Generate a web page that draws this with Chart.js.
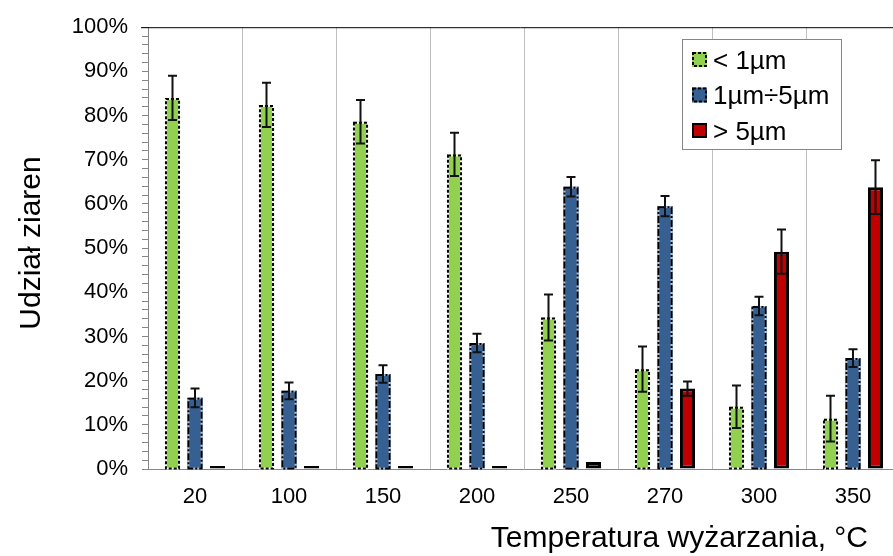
<!DOCTYPE html>
<html>
<head>
<meta charset="utf-8">
<script src="https://cdn.jsdelivr.net/npm/chart.js"></script>
<style>
html, body { margin: 0; padding: 0; background: #fff; overflow: hidden; }
#wrap { width: 900px; height: 556px; }
</style>
</head>
<body>
<div id="wrap"><canvas id="chart"></canvas></div>
<script>
const temperatures = ['20', '100', '150', '200', '250', '270', '300', '350'];

const small = [84.0, 82.4, 78.6, 71.2, 34.3, 22.6, 14.1, 11.4];
const smallErr = [5.0, 5.0, 4.9, 4.9, 5.2, 5.1, 4.8, 5.2];

const medium = [16.1, 17.7, 21.5, 28.5, 63.9, 59.5, 36.9, 25.1];
const mediumErr = [2.1, 1.9, 2.0, 2.1, 2.2, 2.3, 2.1, 2.0];

const large = [0.2, 0.2, 0.2, 0.3, 1.6, 18.2, 49.2, 63.8];
const largeErr = [0, 0, 0, 0, 0, 1.6, 5.0, 6.1];

const yTicks = [0, 10, 20, 30, 40, 50, 60, 70, 80, 90, 100];

const FONT = "'Liberation Sans', Arial, sans-serif";

// dashed outlines + error bars, drawn over the library's bars
const barExtras = {
	id: 'barExtras',
	afterDatasetsDraw(chart) {
		const ctx = chart.ctx;
		const yScale = chart.scales.y;
		chart.data.datasets.forEach((ds, i) => {
			const meta = chart.getDatasetMeta(i);
			meta.data.forEach((bar, j) => {
				const half = bar.width / 2;
				const top = Math.min(bar.y, bar.base);
				const bottom = Math.max(bar.y, bar.base);
				if (ds.dashPattern) {
					ctx.save();
					ctx.lineWidth = 2;
					ctx.strokeStyle = ds.dashGap;
					ctx.strokeRect(bar.x - half + 1, top + 1, bar.width - 2, bottom - top - 1);
					ctx.setLineDash(ds.dashPattern);
					ctx.strokeStyle = '#000';
					ctx.strokeRect(bar.x - half + 1, top + 1, bar.width - 2, bottom - top - 1);
					ctx.restore();
				}
				const err = ds.errors[j];
				if (err) {
					const hi = yScale.getPixelForValue(ds.data[j] + err);
					const lo = yScale.getPixelForValue(ds.data[j] - err);
					ctx.save();
					ctx.strokeStyle = '#111';
					ctx.lineWidth = 2;
					ctx.beginPath();
					ctx.moveTo(bar.x, hi);
					ctx.lineTo(bar.x, lo);
					ctx.moveTo(bar.x - 4.5, hi);
					ctx.lineTo(bar.x + 4.5, hi);
					ctx.moveTo(bar.x - 4.5, lo);
					ctx.lineTo(bar.x + 4.5, lo);
					ctx.stroke();
					ctx.restore();
				}
			});
		});
	}
};

// top frame line, axis titles and the boxed legend
const decorations = {
	id: 'decorations',
	afterDraw(chart) {
		const ctx = chart.ctx;
		const area = chart.chartArea;
		ctx.save();

		ctx.strokeStyle = '#000';
		ctx.lineWidth = 1;
		ctx.beginPath();
		ctx.moveTo(area.left - 7, area.top + 0.5);
		ctx.lineTo(area.right, area.top + 0.5);
		ctx.stroke();

		ctx.fillStyle = '#000';
		ctx.font = '30px ' + FONT;
		ctx.textAlign = 'right';
		ctx.textBaseline = 'alphabetic';
		ctx.fillText('Temperatura wyżarzania, °C', 868, 547);

		ctx.save();
		ctx.translate(40, 243);
		ctx.rotate(-Math.PI / 2);
		ctx.textAlign = 'center';
		ctx.fillText('Udział ziaren', 0, 0);
		ctx.restore();

		const box = { x: 682.5, y: 39.5, w: 159, h: 110 };
		ctx.fillStyle = '#fff';
		ctx.fillRect(box.x, box.y, box.w, box.h);
		ctx.strokeStyle = '#868686';
		ctx.strokeRect(box.x, box.y, box.w, box.h);

		ctx.font = '26px ' + FONT;
		ctx.textAlign = 'left';
		chart.data.datasets.forEach((ds, i) => {
			const cy = box.y + 20 + i * 35.5;
			const mx = 692, size = 15;
			ctx.fillStyle = ds.backgroundColor;
			ctx.fillRect(mx, cy - size / 2, size, size);
			ctx.save();
			ctx.lineWidth = 2;
			ctx.strokeStyle = '#000';
			if (ds.dashPattern) ctx.setLineDash([3, 2]);
			ctx.strokeRect(mx + 1, cy - size / 2 + 1, size - 2, size - 2);
			ctx.restore();
			ctx.fillStyle = '#000';
			ctx.fillText(ds.label, 713, cy + 9);
		});
		ctx.restore();
	}
};

new Chart(document.getElementById('chart'), {
	type: 'bar',
	data: {
		labels: temperatures,
		datasets: [
			{
				label: '< 1µm',
				data: small,
				errors: smallErr,
				backgroundColor: '#92D050',
				borderWidth: 0,
				dashPattern: [3, 2],
				dashGap: '#f4fbe8',
			},
			{
				label: '1µm÷5µm',
				data: medium,
				errors: mediumErr,
				backgroundColor: '#376092',
				borderWidth: 0,
				dashPattern: [7, 2, 2, 2],
				dashGap: '#a9bedb',
			},
			{
				label: '> 5µm',
				data: large,
				errors: largeErr,
				backgroundColor: '#C00000',
				borderColor: '#000',
				borderWidth: 3,
				borderSkipped: false,
				minBarLength: 3,
			},
		],
	},
	options: {
		responsive: true,
		maintainAspectRatio: false,
		animation: false,
		layout: { padding: { top: 20, left: 0, right: 0, bottom: 0 } },
		categoryPercentage: 0.718,
		barPercentage: 0.67,
		plugins: {
			legend: { display: false },
			tooltip: { enabled: false },
		},
		scales: {
			x: {
				afterFit: (s) => { s.height = 87; },
				grid: {
					display: true,
					offset: true,
					drawTicks: false,
					color: '#BFBFBF',
					lineWidth: 1,
				},
				border: { color: '#868686', width: 1 },
				ticks: {
					color: '#000',
					padding: 15,
					font: { family: FONT, size: 22 },
				},
			},
			y: {
				min: 0,
				max: 100,
				afterFit: (s) => { s.width = 148; },
				afterBuildTicks: (s) => {
					const minor = [];
					for (let v = 0; v <= 100; v += 2) minor.push({ value: v });
					s.ticks = minor;
				},
				grid: {
					drawOnChartArea: false,
					drawTicks: true,
					tickLength: 6,
					tickColor: '#868686',
				},
				border: { color: '#868686', width: 1 },
				ticks: {
					autoSkip: false,
					color: '#000',
					padding: 14,
					font: { family: FONT, size: 22 },
					callback: (v) => (yTicks.includes(v) ? v + '%' : ''),
				},
			},
		},
	},
	plugins: [barExtras, decorations],
});
</script>
</body>
</html>
